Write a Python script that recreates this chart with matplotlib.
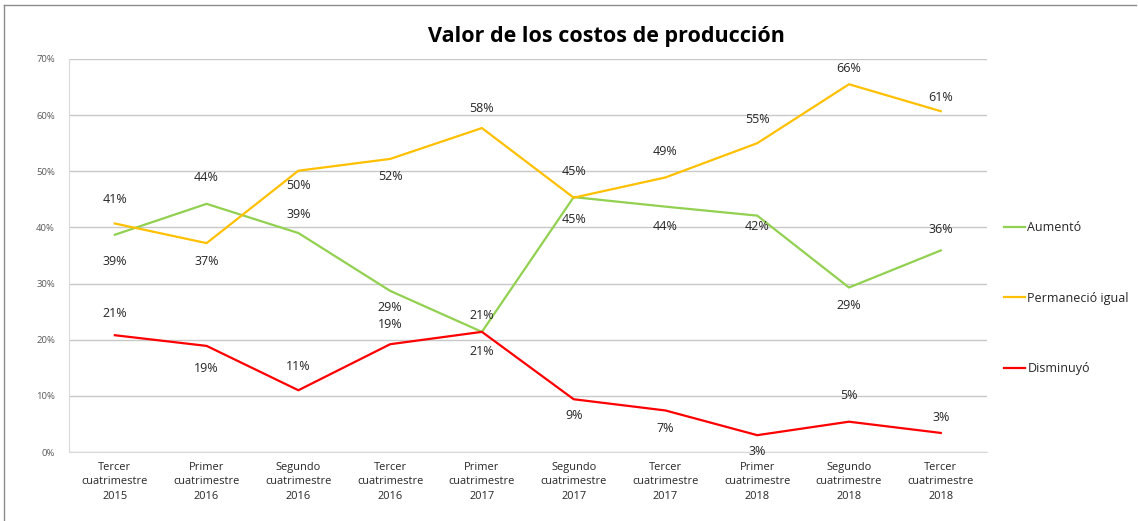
import matplotlib.pyplot as plt
from matplotlib.lines import Line2D
from matplotlib.ticker import PercentFormatter

plt.rcParams['font.family'] = ['Open Sans', 'DejaVu Sans']

periods = ["Tercer\ncuatrimestre\n2015", "Primer\ncuatrimestre\n2016",
           "Segundo\ncuatrimestre\n2016", "Tercer\ncuatrimestre\n2016",
           "Primer\ncuatrimestre\n2017", "Segundo\ncuatrimestre\n2017",
           "Tercer\ncuatrimestre\n2017", "Primer\ncuatrimestre\n2018",
           "Segundo\ncuatrimestre\n2018", "Tercer\ncuatrimestre\n2018"]

aumento = [38.7, 44.2, 39.0, 28.7, 21.4, 45.4, 43.7, 42.1, 29.3, 35.9]
permanecio = [40.7, 37.2, 50.1, 52.2, 57.7, 45.3, 48.9, 55.0, 65.5, 60.7]
disminuyo = [20.8, 18.9, 11.0, 19.2, 21.4, 9.4, 7.4, 3.0, 5.4, 3.4]

series_names = ["Aumentó", "Permaneció igual", "Disminuyó"]
colors = ["#92d050", "#ffc000", "#ff0000"]

# label offsets in points (positive = above)
offsets = [
    [-19, 19, 13, -12, -14, -16, -14, -8, -13, 15],
    [17, -13, -11, -13, 14, 19, 19, 17, 11, 10],
    [16, -16, 17, 14, 12, -12, -13, -12, 19, 11],
]

fig = plt.figure(figsize=(11.38, 5.21), dpi=100)
ax = fig.add_axes([0.0606, 0.1324, 0.8064, 0.7544])

x = list(range(len(periods)))
for vals, col, name, offs in zip([aumento, permanecio, disminuyo], colors, series_names, offsets):
    ax.plot(x, vals, color=col, lw=1.6, label=name)
    for xi, v, o in zip(x, vals, offs):
        ax.annotate(f"{v:.0f}%", (xi, v), xytext=(0, o), textcoords="offset points",
                    ha="center", va="center", fontsize=9, color="#262626")

ax.set_ylim(0, 70)
ax.set_xlim(-0.5, len(periods) - 0.5)
ax.set_yticks(range(0, 71, 10))
ax.yaxis.set_major_formatter(PercentFormatter(decimals=0))
ax.set_xticks(x)
ax.set_xticklabels(periods, fontsize=7.9, color="#262626", linespacing=1.45)
ax.tick_params(axis="y", labelsize=6.8, labelcolor="#595959", length=0, pad=10)
ax.tick_params(axis="x", length=0, pad=7)
ax.grid(axis="y", color="#c8c8c8", lw=1)
ax.set_axisbelow(True)
for s in ["top", "right"]:
    ax.spines[s].set_visible(False)
ax.spines["left"].set_color("#d9d9d9")
ax.spines["bottom"].set_color("#d9d9d9")

fig.text(0.533, 0.93, "Valor de los costos de producción", ha="center", va="center",
         fontsize=15.5, fontweight="bold", color="black")

handles = [Line2D([], [], color=c, lw=1.6) for c in colors]
fig.legend(handles, series_names, loc="center left", bbox_to_anchor=(0.872, 0.428),
           frameon=False, fontsize=9, handlelength=1.7, handletextpad=0.2,
           labelspacing=4.6, labelcolor="#262626")

# outer chart border (top and left)
fig.add_artist(Line2D([0.0035, 0.998], [0.99, 0.99], color="#8c8c8c", lw=1))
fig.add_artist(Line2D([0.0035, 0.0035], [0.0, 0.99], color="#8c8c8c", lw=1))

fig.savefig("out.png", dpi=100)
